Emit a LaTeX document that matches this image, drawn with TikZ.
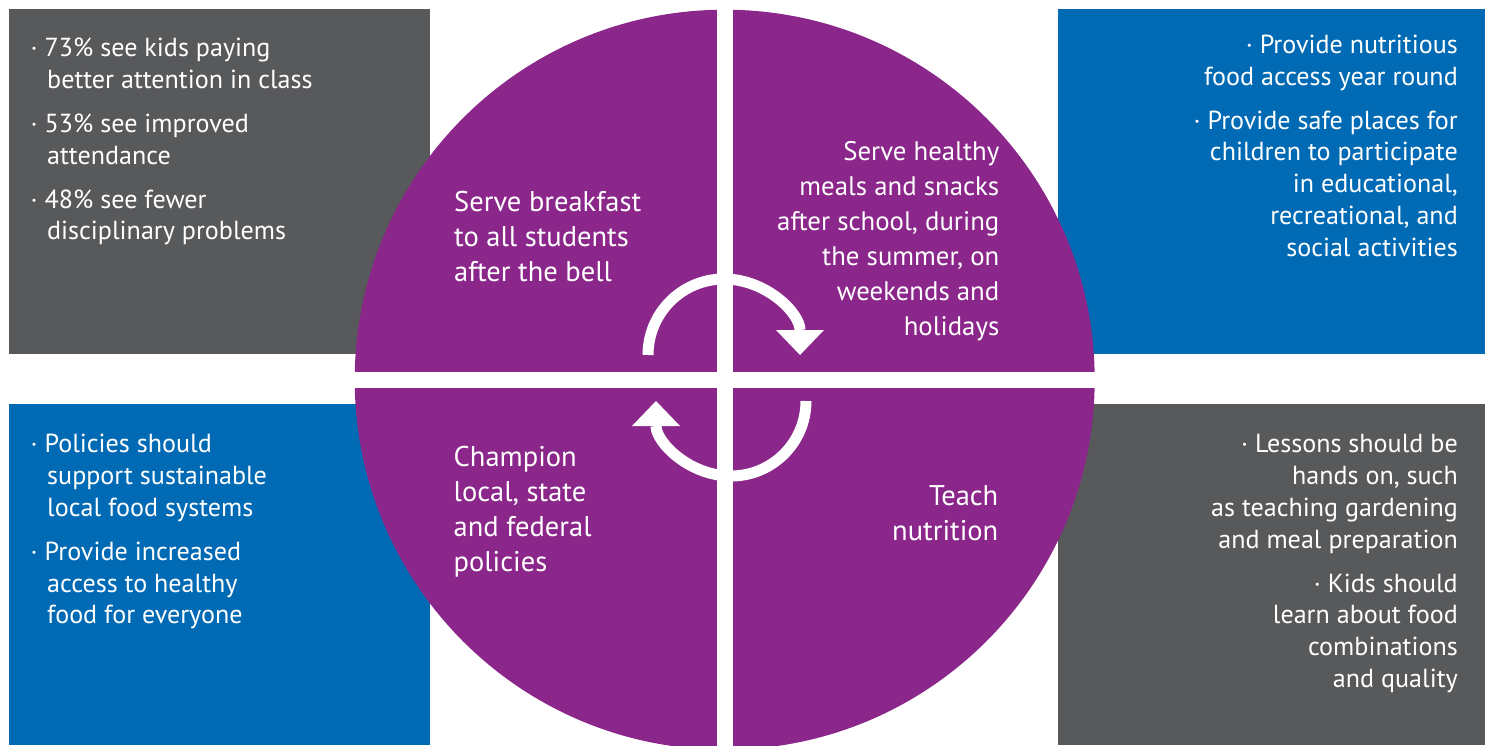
\documentclass[tikz,border=0pt]{standalone}
\usepackage{fontspec}
\setmainfont{PT Sans}
\usetikzlibrary{arrows.meta}
\definecolor{boxgray}{RGB}{88,89,91}
\definecolor{boxblue}{RGB}{0,106,180}
\definecolor{wheel}{RGB}{139,38,139}
\newcommand{\bulletdot}{\makebox[14pt][l]{·}}
\newcommand{\indentsp}{\hspace*{16.5pt}}
\begin{document}
\begin{tikzpicture}[x=1pt,y=-1pt,
  smalltxt/.style={text=white, inner sep=0pt, font=\fontsize{26.1}{31.8}\selectfont},
  bigtxt/.style={text=white, inner sep=0pt, font=\fontsize{28.5}{35}\selectfont},
  midtxt/.style={text=white, inner sep=0pt, font=\fontsize{26.8}{35}\selectfont},
  ring/.style={draw=white, line width=11pt, -{Triangle[width=48pt,length=25pt,line width=0pt]}}
]
\useasboundingbox (0,0) rectangle (1492,745);
\clip (0,0) rectangle (1492,745);
% panels
\fill[boxgray] (9,9) rectangle (430,354);
\fill[boxblue] (1058,9) rectangle (1485,354);
\fill[boxblue] (9,404) rectangle (430,745);
\fill[boxgray] (1058,404) rectangle (1485,745);
% wheel
\coordinate (c) at (724.7,379.7);
\fill[wheel] (c) circle[radius=370];
\begin{scope}
  \clip (c) circle[radius=372];
  \fill[white] (716.7,0) rectangle (732.7,760);
  \fill[white] (340,371.7) rectangle (1110,387.7);
\end{scope}
% cycle arrows
\coordinate (topstart) at (648,355);
\coordinate (botstart) at (806,401);
\draw[ring] (topstart) arc[start angle=180, end angle=360, radius=76];
\draw[ring] (botstart) arc[start angle=0, end angle=180, radius=75];
% wheel texts
\node[bigtxt, anchor=north west, align=left] (breakfast) at (454,187.2)
  {\strut Serve breakfast\\to all students\\after the bell};
\node[midtxt, anchor=north east, align=right] (healthy) at (999.5,136.2)
  {\strut Serve healthy\\meals and snacks\\after school, during\\the summer, on\\weekends and\\holidays};
\node[bigtxt, anchor=north west, align=left] (champion) at (453.5,441.5)
  {\strut Champion\\local, state\\and federal\\policies};
\node[bigtxt, anchor=north east, align=right] (teach) at (998.5,480.5)
  {\strut Teach\\nutrition};
% panel texts
\node[smalltxt, anchor=north west, align=left] (tl) at (30.5,34.4)
  {\strut\bulletdot 73\% see kids paying\\\indentsp better attention in class\\[12pt]
   \bulletdot 53\% see improved\\\indentsp attendance\\[12pt]
   \bulletdot 48\% see fewer\\\indentsp disciplinary problems};
\node[smalltxt, anchor=north east, align=right] (tr) at (1458,31)
  {\strut · Provide nutritious\\food access year round\\[12pt]
   · Provide safe places for\\children to participate\\in educational,\\recreational, and\\social activities};
\node[smalltxt, anchor=north west, align=left] (bl) at (30.5,430.4)
  {\strut\bulletdot Policies should\\\indentsp support sustainable\\\indentsp local food systems\\[12pt]
   \bulletdot Provide increased\\\indentsp access to healthy\\\indentsp food for everyone};
\node[smalltxt, anchor=north east, align=right] (br) at (1458,430.4)
  {\strut · Lessons should be\\hands on, such\\as teaching gardening\\and meal preparation\\[12pt]
   · Kids should\\learn about food\\combinations\\and quality};
\end{tikzpicture}
\end{document}
